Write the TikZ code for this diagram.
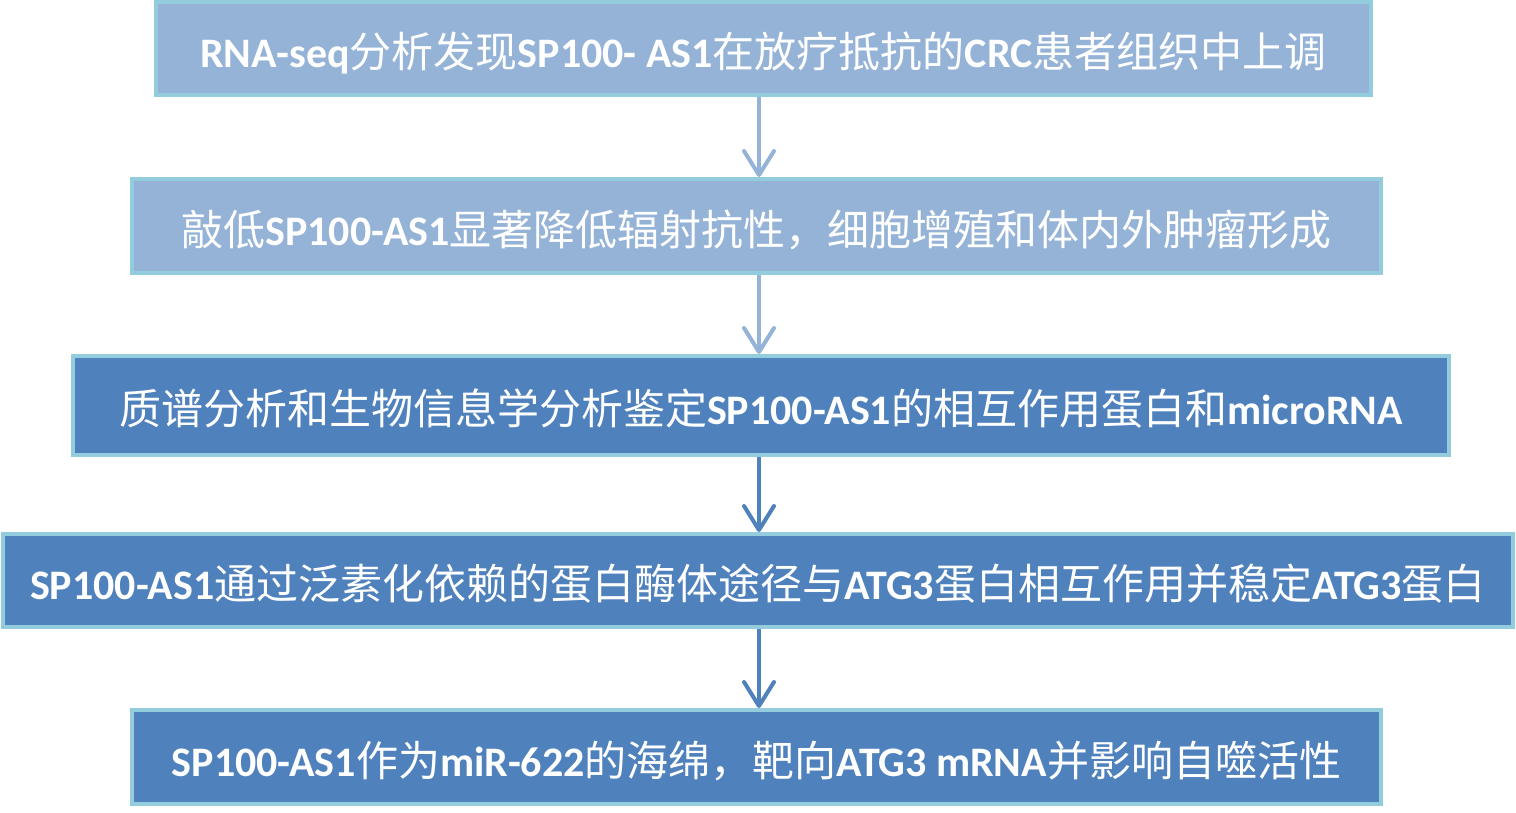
\documentclass[tikz,border=0pt]{standalone}
\usepackage{fontspec}
\setmainfont{Noto Sans CJK SC}
\newfontfamily\latfont{Carlito}
\usepackage{tikz}
\usetikzlibrary{%
  arrows.meta,
  positioning
}
\definecolor{boxlight}{HTML}{95B3D7}
\definecolor{boxdark}{HTML}{4F81BD}
\definecolor{boxrim}{HTML}{93CDDD}
\newcommand{\en}[1]{{\latfont\bfseries #1}}
\tikzset{
  stage/.style={
    draw=boxrim, line width=2pt,
    text=white, font=\fontsize{21pt}{24pt}\selectfont,
    inner sep=0pt, text height=22pt, text depth=3pt,
  },
  stagelight/.style={stage, fill=boxlight},
  stagedark/.style={stage, fill=boxdark},
  flow/.style={
    line width=2pt,
    -{Straight Barb[round, length=12pt, width=15pt]},
  },
}

\begin{document}
\begin{tikzpicture}[x=0.5pt, y=-0.5pt]
    \useasboundingbox (0,0) rectangle (1516,813) ;

    \node (s1) [stagelight, minimum width=607.5pt, minimum height=46.5pt]
          at ( 763.5,  48.5)
          {\en{RNA-seq}分析发现\en{SP100- AS1}在放疗抵抗的\en{CRC}患者组织中上调} ;
    \node (s2) [stagelight, minimum width=624.5pt, minimum height=47pt]
          at ( 756.5, 226.0)
          {敲低\en{SP100-AS1}显著降低辐射抗性，细胞增殖和体内外肿瘤形成} ;
    \node (s3) [stagedark, minimum width=688pt, minimum height=49.5pt]
          at ( 761.0, 405.5)
          {质谱分析和生物信息学分析鉴定\en{SP100-AS1}的相互作用蛋白和\en{microRNA}} ;
    \node (s4) [stagedark, minimum width=755pt, minimum height=46.5pt]
          at ( 758.0, 580.5)
          {\en{SP100-AS1}通过泛素化依赖的蛋白酶体途径与\en{ATG3}蛋白相互作用并稳定\en{ATG3}蛋白} ;
    \node (s5) [stagedark, minimum width=624.5pt, minimum height=47pt]
          at ( 756.5, 757.0)
          {\en{SP100-AS1}作为\en{miR-622}的海绵，靶向\en{ATG3 mRNA}并影响自噬活性} ;

    \coordinate (axis) at ( 759.0, 0.0) ;

    \begin{scope}[boxlight]
      \draw [flow] (s1.south -| axis) -- (s2.north -| axis) ;
      \draw [flow] (s2.south -| axis) -- (s3.north -| axis) ;
    \end{scope}
    \begin{scope}[boxdark]
      \draw [flow] (s3.south -| axis) -- (s4.north -| axis) ;
      \draw [flow] (s4.south -| axis) -- (s5.north -| axis) ;
    \end{scope}
\end{tikzpicture}
\end{document}
